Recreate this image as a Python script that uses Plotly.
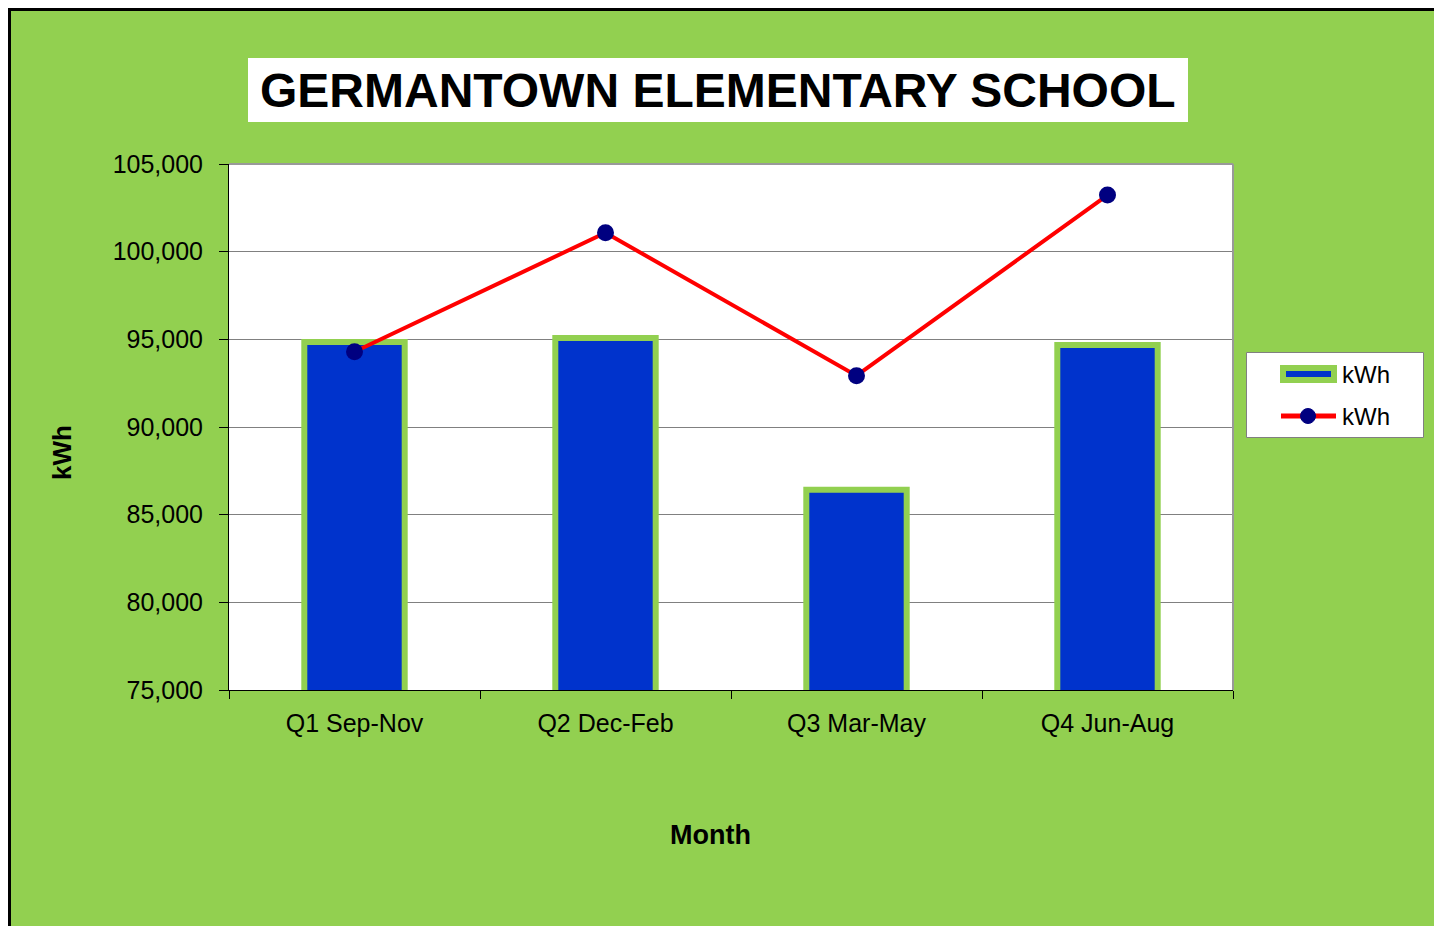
import plotly.graph_objects as go

categories = ["Q1 Sep-Nov", "Q2 Dec-Feb", "Q3 Mar-May", "Q4 Jun-Aug"]
bar_kwh = [94850, 95075, 86420, 94680]
line_kwh = [94290, 101080, 92925, 103230]
y_ticks = [75000, 80000, 85000, 90000, 95000, 100000, 105000]

OFF = 8  # page body margin
W, H = 1442 - OFF, 926 - OFF
# plot area in page pixels
PL, PR, PT, PB = 229, 1233, 164, 690
L, R, T, B = PL - OFF, PR - OFF, PT - OFF, PB - OFF


def X(px):  # page px -> paper
    return (px - PL) / (PR - PL)


def Y(py):
    return (PB - py) / (PB - PT)


GREEN = "#92D050"
ARIAL = "Liberation Sans, Arial, sans-serif"

fig = go.Figure()
fig.add_trace(go.Bar(
    x=categories, y=bar_kwh, name="kWh", width=0.4,
    marker=dict(color="#0033CC", line=dict(color=GREEN, width=6)),
    showlegend=False,
))
fig.add_trace(go.Scatter(
    x=categories, y=line_kwh, name="kWh", mode="lines+markers",
    line=dict(color="#FF0000", width=4),
    marker=dict(color="#000080", size=17),
    showlegend=False,
))

shapes = []
# right white margin + black border
shapes.append(dict(type="rect", xref="paper", yref="paper", x0=X(1438), x1=X(1450), y0=Y(940), y1=Y(0),
                   fillcolor="white", line=dict(width=0), layer="above"))
shapes.append(dict(type="rect", xref="paper", yref="paper", x0=X(9.5), x1=X(1436.5), y0=Y(960), y1=Y(9.5),
                   fillcolor="rgba(0,0,0,0)", line=dict(color="black", width=3), layer="above"))
# title box
shapes.append(dict(type="rect", xref="paper", yref="paper", x0=X(248), x1=X(1188), y0=Y(122), y1=Y(58),
                   fillcolor="white", line=dict(width=0), layer="above"))
# plot area top/right border
shapes.append(dict(type="line", xref="paper", yref="paper", x0=0, x1=1, y0=1, y1=1,
                   line=dict(color="#999999", width=2), layer="above"))
shapes.append(dict(type="line", xref="paper", yref="paper", x0=1, x1=1, y0=0, y1=1,
                   line=dict(color="#999999", width=2), layer="above"))
# legend box
shapes.append(dict(type="rect", xref="paper", yref="paper", x0=X(1246.5), x1=X(1423.5), y0=Y(437.5), y1=Y(352.5),
                   fillcolor="white", line=dict(color="#808080", width=1), layer="above"))
# legend symbol 1 (bar)
shapes.append(dict(type="rect", xref="paper", yref="paper", x0=X(1283), x1=X(1334), y0=Y(380), y1=Y(368),
                   fillcolor="#0033CC", line=dict(color=GREEN, width=6), layer="above"))
# legend symbol 2 (line + marker)
shapes.append(dict(type="line", xref="paper", yref="paper", x0=X(1281), x1=X(1336), y0=Y(416), y1=Y(416),
                   line=dict(color="#FF0000", width=5), layer="above"))
shapes.append(dict(type="circle", xref="paper", yref="paper", x0=X(1300.5), x1=X(1315.5), y0=Y(423.5), y1=Y(408.5),
                   fillcolor="#000080", line=dict(color="#000080", width=1), layer="above"))

annotations = [
    dict(text="<b>GERMANTOWN ELEMENTARY SCHOOL</b>", xref="paper", yref="paper", x=X(718), y=Y(90),
         xanchor="center", yanchor="middle", showarrow=False, font=dict(family=ARIAL, size=48, color="black")),
    dict(text="<b>Month</b>", xref="paper", yref="paper", x=X(710), y=Y(835),
         xanchor="center", yanchor="middle", showarrow=False, font=dict(family=ARIAL, size=27, color="black")),
    dict(text="<b>kWh</b>", xref="paper", yref="paper", x=X(62), y=Y(453), textangle=-90,
         xanchor="center", yanchor="middle", showarrow=False, font=dict(family=ARIAL, size=26, color="black")),
    dict(text="kWh", xref="paper", yref="paper", x=X(1340), y=Y(374),
         xanchor="left", yanchor="middle", showarrow=False, font=dict(family=ARIAL, size=24, color="black")),
    dict(text="kWh", xref="paper", yref="paper", x=X(1340), y=Y(416),
         xanchor="left", yanchor="middle", showarrow=False, font=dict(family=ARIAL, size=24, color="black")),
]

fig.update_layout(
    width=W, height=H,
    margin=dict(l=L, r=W - R, t=T, b=H - B, pad=0),
    paper_bgcolor=GREEN, plot_bgcolor="white",
    shapes=shapes, annotations=annotations,
    showlegend=False,
)
fig.update_xaxes(
    type="category", range=[-0.5, 3.5], showgrid=False, zeroline=False,
    showline=True, linecolor="black", linewidth=1,
    ticks="outside", tickson="boundaries", ticklen=8, tickcolor="black", tickwidth=1,
    tickfont=dict(family=ARIAL, size=25, color="black"), ticklabelstandoff=11,
)
fig.update_yaxes(
    range=[75000, 105000], tickvals=y_ticks, tickformat=",", showgrid=True, gridcolor="#808080", gridwidth=1,
    zeroline=False, showline=True, linecolor="black", linewidth=1,
    ticks="outside", ticklen=9, tickcolor="black", tickwidth=1,
    tickfont=dict(family=ARIAL, size=25, color="black"), ticklabelstandoff=11,
)

fig.write_html("out.html")
